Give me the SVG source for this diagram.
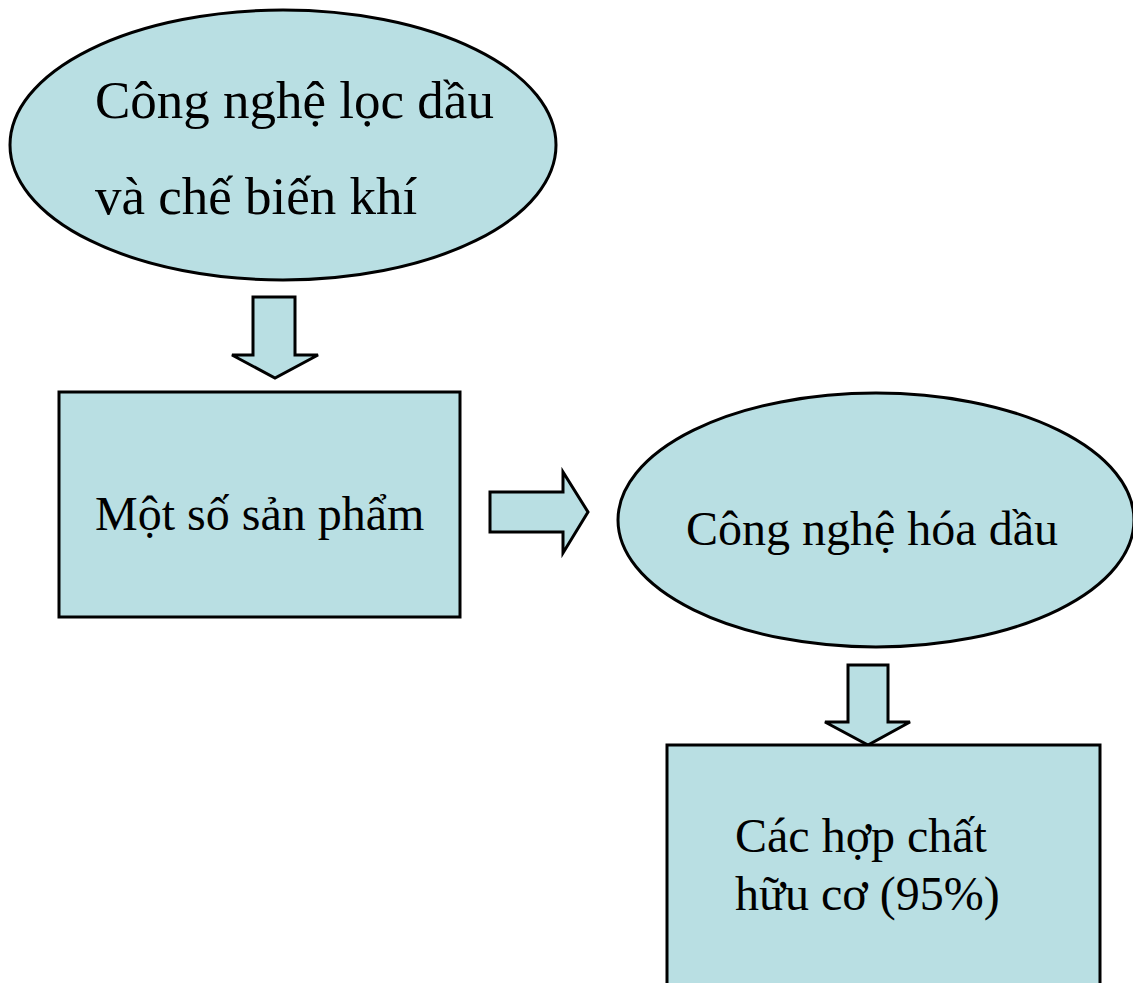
<svg xmlns="http://www.w3.org/2000/svg" width="1133" height="983" viewBox="0 0 1133 983">
<style>
.shape{fill:#b9dfe3;stroke:#000;stroke-width:3}
.arrow{fill:#b9dfe3;stroke:#000;stroke-width:3;stroke-linejoin:miter}
.t{font-family:"Liberation Serif","Times New Roman",serif;fill:#000}
</style>
<rect width="1133" height="983" fill="#fff"/>
<g id="connectors">
<polygon class="arrow" points="253,297 295,297 295,355 318,355 275,378 232,355 253,355"/>
<polygon class="arrow" points="490,492 563,492 563,472 588,512 563,553 563,532 490,532"/>
<polygon class="arrow" points="848,665 888,665 888,722 910,722 868,745 825,722 848,722"/>
</g>
<g id="node-loc-dau">
<ellipse class="shape" cx="283" cy="145" rx="273" ry="135"/>
<text class="t" x="95" y="118" font-size="53">Công nghệ lọc dầu</text>
<text class="t" x="95" y="214" font-size="53">và chế biến khí</text>
</g>
<g id="node-san-pham">
<rect class="shape" x="59" y="392" width="401" height="225"/>
<text class="t" x="95" y="530" font-size="48">Một số sản phẩm</text>
</g>
<g id="node-hoa-dau">
<ellipse class="shape" cx="876" cy="520" rx="258" ry="127"/>
<text class="t" x="686" y="545" font-size="48">Công nghệ hóa dầu</text>
</g>
<g id="node-hop-chat">
<rect class="shape" x="667" y="745" width="433" height="260"/>
<text class="t" x="735" y="852" font-size="48">Các hợp chất</text>
<text class="t" x="735" y="910" font-size="48">hữu cơ (95%)</text>
</g>
</svg>
